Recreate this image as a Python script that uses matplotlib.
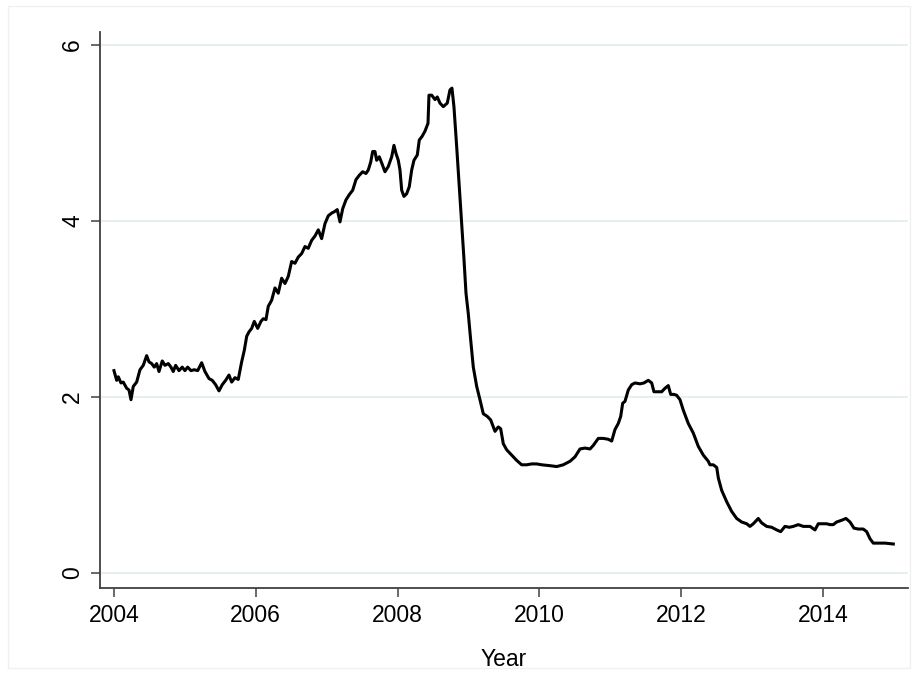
import matplotlib
matplotlib.use("Agg")
import matplotlib.pyplot as plt
from matplotlib.patches import Rectangle

years = [
    2004.000, 2004.038, 2004.061, 2004.099, 2004.131, 2004.179, 2004.212, 2004.240, 2004.272, 2004.320,
    2004.367, 2004.413, 2004.461, 2004.494, 2004.532, 2004.568, 2004.602, 2004.635, 2004.681, 2004.719,
    2004.766, 2004.804, 2004.836, 2004.870, 2004.917, 2004.963, 2005.001, 2005.039, 2005.086, 2005.133,
    2005.181, 2005.237, 2005.283, 2005.340, 2005.386, 2005.434, 2005.481, 2005.527, 2005.575, 2005.622,
    2005.660, 2005.707, 2005.753, 2005.801, 2005.838, 2005.872, 2005.904, 2005.942, 2005.979, 2006.027,
    2006.073, 2006.106, 2006.144, 2006.176, 2006.224, 2006.271, 2006.317, 2006.365, 2006.412, 2006.458,
    2006.506, 2006.553, 2006.599, 2006.647, 2006.694, 2006.740, 2006.788, 2006.835, 2006.882, 2006.929,
    2006.976, 2007.023, 2007.070, 2007.117, 2007.149, 2007.188, 2007.226, 2007.272, 2007.319, 2007.367,
    2007.413, 2007.460, 2007.508, 2007.554, 2007.587, 2007.621, 2007.649, 2007.681, 2007.705, 2007.742,
    2007.776, 2007.822, 2007.869, 2007.917, 2007.949, 2007.977, 2008.010, 2008.034, 2008.058, 2008.090,
    2008.128, 2008.165, 2008.199, 2008.231, 2008.278, 2008.306, 2008.344, 2008.386, 2008.429, 2008.443,
    2008.481, 2008.528, 2008.560, 2008.598, 2008.645, 2008.701, 2008.739, 2008.767, 2008.795, 2008.834,
    2008.870, 2008.904, 2008.937, 2008.965, 2008.997, 2009.031, 2009.068, 2009.116, 2009.162, 2009.209,
    2009.265, 2009.313, 2009.374, 2009.420, 2009.454, 2009.491, 2009.539, 2009.609, 2009.680, 2009.750,
    2009.821, 2009.891, 2009.962, 2010.032, 2010.150, 2010.244, 2010.337, 2010.432, 2010.502, 2010.573,
    2010.643, 2010.714, 2010.760, 2010.831, 2010.901, 2010.972, 2011.020, 2011.066, 2011.113, 2011.147,
    2011.175, 2011.207, 2011.254, 2011.302, 2011.348, 2011.419, 2011.475, 2011.536, 2011.584, 2011.616,
    2011.663, 2011.725, 2011.772, 2011.818, 2011.852, 2011.898, 2011.936, 2011.983, 2012.030, 2012.100,
    2012.171, 2012.241, 2012.312, 2012.382, 2012.406, 2012.453, 2012.501, 2012.524, 2012.571, 2012.642,
    2012.712, 2012.783, 2012.853, 2012.924, 2012.970, 2013.017, 2013.087, 2013.135, 2013.206, 2013.276,
    2013.347, 2013.403, 2013.464, 2013.525, 2013.581, 2013.652, 2013.722, 2013.817, 2013.887, 2013.934,
    2014.004, 2014.052, 2014.099, 2014.145, 2014.193, 2014.264, 2014.324, 2014.381, 2014.437, 2014.498,
    2014.568, 2014.616, 2014.663, 2014.709, 2014.804, 2014.875, 2014.992,
]

rate = [
    2.30, 2.19, 2.23, 2.16, 2.17, 2.10, 2.08, 1.97, 2.12, 2.17,
    2.31, 2.36, 2.47, 2.40, 2.38, 2.34, 2.38, 2.29, 2.41, 2.36,
    2.38, 2.34, 2.29, 2.36, 2.30, 2.34, 2.30, 2.34, 2.30, 2.31,
    2.30, 2.39, 2.29, 2.21, 2.19, 2.14, 2.07, 2.14, 2.19, 2.25,
    2.17, 2.22, 2.20, 2.40, 2.53, 2.69, 2.74, 2.78, 2.86, 2.78,
    2.86, 2.89, 2.88, 3.03, 3.10, 3.24, 3.18, 3.35, 3.29, 3.37,
    3.54, 3.52, 3.59, 3.63, 3.71, 3.69, 3.78, 3.83, 3.90, 3.80,
    3.97, 4.06, 4.09, 4.11, 4.13, 3.99, 4.14, 4.24, 4.30, 4.35,
    4.47, 4.52, 4.56, 4.54, 4.58, 4.67, 4.79, 4.79, 4.69, 4.73,
    4.66, 4.56, 4.62, 4.73, 4.86, 4.77, 4.69, 4.58, 4.35, 4.28,
    4.31, 4.39, 4.58, 4.69, 4.75, 4.92, 4.96, 5.02, 5.11, 5.43,
    5.43, 5.38, 5.41, 5.34, 5.30, 5.34, 5.49, 5.51, 5.30, 4.84,
    4.39, 3.97, 3.56, 3.18, 2.95, 2.65, 2.34, 2.12, 1.97, 1.81,
    1.78, 1.74, 1.61, 1.66, 1.64, 1.47, 1.40, 1.34, 1.28, 1.23,
    1.23, 1.24, 1.24, 1.23, 1.22, 1.21, 1.23, 1.27, 1.32, 1.41,
    1.42, 1.41, 1.45, 1.53, 1.53, 1.52, 1.50, 1.63, 1.70, 1.78,
    1.93, 1.95, 2.08, 2.14, 2.16, 2.15, 2.16, 2.19, 2.16, 2.06,
    2.06, 2.06, 2.10, 2.13, 2.03, 2.03, 2.02, 1.97, 1.85, 1.70,
    1.59, 1.44, 1.34, 1.27, 1.23, 1.23, 1.20, 1.08, 0.94, 0.81,
    0.70, 0.62, 0.58, 0.56, 0.53, 0.56, 0.62, 0.57, 0.53, 0.52,
    0.49, 0.47, 0.53, 0.52, 0.53, 0.55, 0.53, 0.53, 0.49, 0.56,
    0.56, 0.56, 0.55, 0.55, 0.58, 0.60, 0.62, 0.58, 0.51, 0.50,
    0.50, 0.47, 0.39, 0.34, 0.34, 0.34, 0.33,
]

x_ticks = [2004, 2006, 2008, 2010, 2012, 2014]
y_ticks = [0, 2, 4, 6]
x_label = "Year"

plt.rcParams['font.family'] = ['Liberation Sans', 'DejaVu Sans']

fig = plt.figure(figsize=(9.18, 6.74), dpi=100)
fig.patch.set_facecolor('white')
W, H = 918, 674
fig.patches.append(Rectangle((8 / W, 6 / H), 1 - 16 / W, 1 - 12 / H,
                             transform=fig.transFigure, fill=False,
                             edgecolor='#f0f0f0', linewidth=1.0))

ax = fig.add_axes([100 / W, 1 - 588 / H, 808 / W, 556 / H])
ax.plot(years, rate, color='black', linewidth=2.2, solid_joinstyle='round')

ax.set_xlim(2003.803, 2015.199)
ax.set_ylim(-0.170, 6.148)
ax.set_xticks(x_ticks)
ax.set_yticks(y_ticks)
ax.set_yticklabels([str(v) for v in y_ticks], rotation=90, va='center')
ax.set_xlabel(x_label, fontsize=16.5, labelpad=15)

for s in ['top', 'right']:
    ax.spines[s].set_visible(False)
for s in ['left', 'bottom']:
    ax.spines[s].set_color('#404040')
    ax.spines[s].set_linewidth(1.3)

ax.tick_params(axis='both', direction='out', length=6.5, width=1.1,
               color='#404040', labelsize=16.5, labelcolor='black')
ax.tick_params(axis='y', pad=5)
ax.tick_params(axis='x', pad=5)

ax.grid(axis='y', color='#e7eff1', linewidth=1.4)
ax.set_axisbelow(True)

fig.savefig('out.png', dpi=100)
